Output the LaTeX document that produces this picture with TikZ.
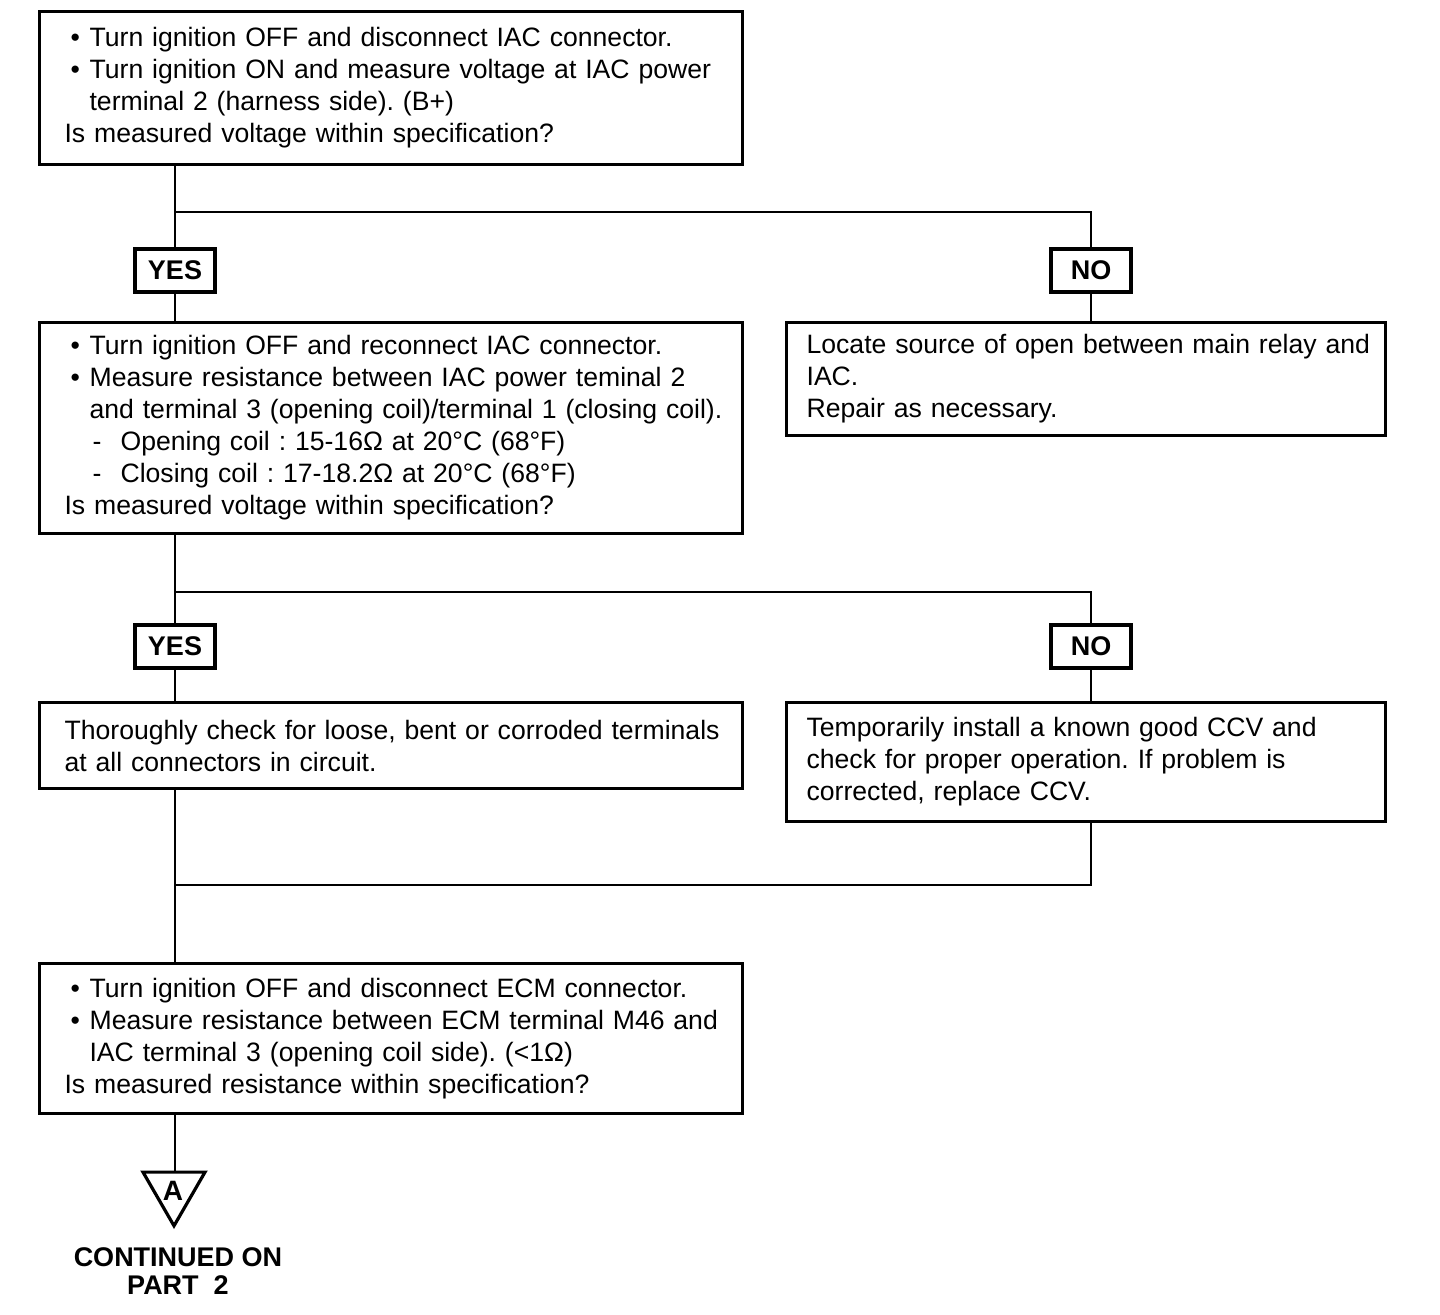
\documentclass[tikz,border=0pt]{standalone}
\usepackage{fontspec}
\setmainfont{Liberation Sans}
\usetikzlibrary{shapes.geometric}
\newcommand\bl{\makebox[12.5pt][l]{\hspace{3pt}\textbullet}}
\newcommand\ind{\hspace*{12.5pt}}
\newcommand\dsh{\hspace*{14pt}\makebox[14pt][l]{-}}
\newcommand\tline[1]{\mbox{#1}}
\begin{document}
\begin{tikzpicture}[x=0.5pt,y=-0.5pt,
  box/.style={draw,line width=1.6pt,rectangle,anchor=north west,align=left,
    inner ysep=0pt,font=\fontsize{13.3pt}{16pt}\selectfont\frenchspacing},
  lbox/.style={box,minimum width=351.5pt,inner xsep=12.5pt,text width=326.5pt},
  rbox/.style={box,minimum width=299.5pt,inner xsep=10pt,text width=279.5pt},
  yn/.style={draw,line width=1.6pt,rectangle,minimum width=40pt,minimum height=21.5pt,
    inner sep=0pt,font=\fontsize{13.5pt}{16pt}\selectfont\bfseries},
  conn/.style={line width=1.4pt}]
\useasboundingbox (0,0) rectangle (1440,1314);
\node[lbox,minimum height=76.5pt] (b1) at (38,10) {%
\tline{\bl Turn ignition OFF and disconnect IAC connector.}\\
\tline{\bl Turn ignition ON and measure voltage at IAC power}\\
\tline{\ind terminal 2 (harness side). (B+)}\\
\tline{Is measured voltage within specification?}};
\node[yn] (yes1) at (175,270.5) {YES};
\node[yn] (no1) at (1091,270.5) {NO};
\coordinate (j1) at (0,212);
\node[lbox,minimum height=105.5pt] (b2) at (38,321) {%
\tline{\bl Turn ignition OFF and reconnect IAC connector.}\\
\tline{\bl Measure resistance between IAC power teminal 2}\\
\tline{\ind and terminal 3 (opening coil)/terminal 1 (closing coil).}\\
\tline{\dsh Opening coil : 15-16Ω at 20°C (68°F)}\\
\tline{\dsh Closing coil : 17-18.2Ω at 20°C (68°F)}\\
\tline{Is measured voltage within specification?}};
\node[rbox,minimum height=56.5pt] (r1) at (785,321) {%
\tline{Locate source of open between main relay and}\\
\tline{IAC.}\\
\tline{Repair as necessary.}};
\node[yn] (yes2) at (175,646.5) {YES};
\node[yn] (no2) at (1091,646.5) {NO};
\coordinate (j2) at (0,592);
\node[lbox,minimum height=43pt] (b3) at (38,701) {%
\tline{Thoroughly check for loose, bent or corroded terminals}\\
\tline{at all connectors in circuit.}};
\node[rbox,minimum height=59.5pt] (r2) at (785,701) {%
\tline{Temporarily install a known good CCV and}\\
\tline{check for proper operation. If problem is}\\
\tline{corrected, replace CCV.}};
\coordinate (j3) at (0,885);
\node[lbox,minimum width=351pt,minimum height=75pt] (b4) at (38,962) {%
\tline{\bl Turn ignition OFF and disconnect ECM connector.}\\
\tline{\bl Measure resistance between ECM terminal M46 and}\\
\tline{\ind IAC terminal 3 (opening coil side). (<1Ω)}\\
\tline{Is measured resistance within specification?}};
\node[draw,line width=1.6pt,regular polygon,regular polygon sides=3,shape border rotate=180,
  minimum size=35.8pt,inner sep=0pt] (tri) at (174,1190) {};
\node[font=\fontsize{14pt}{16pt}\selectfont\bfseries] (tA) at (173,1191) {A};
\node[align=center,font=\fontsize{13.5pt}{14pt}\selectfont\bfseries] (cont) at (178,1271) {CONTINUED ON\\PART\ \ 2};
% connectors
\draw[conn] (yes1.north |- b1.south) -- (yes1.north);
\draw[conn] (yes1.north |- j1) -- (no1.north |- j1) -- (no1.north);
\draw[conn] (yes1.south) -- (yes1.south |- b2.north);
\draw[conn] (no1.south) -- (no1.south |- r1.north);
\draw[conn] (yes2.north |- b2.south) -- (yes2.north);
\draw[conn] (yes2.north |- j2) -- (no2.north |- j2) -- (no2.north);
\draw[conn] (yes2.south) -- (yes2.south |- b3.north);
\draw[conn] (no2.south) -- (no2.south |- r2.north);
\draw[conn] (yes2.south |- b3.south) -- (yes2.south |- b4.north);
\draw[conn] (no2.south |- r2.south) -- (no2.south |- j3) -- (yes2.south |- j3);
\draw[conn] (yes2.south |- b4.south) -- (tri.north -| yes2.south);
\end{tikzpicture}
\end{document}
